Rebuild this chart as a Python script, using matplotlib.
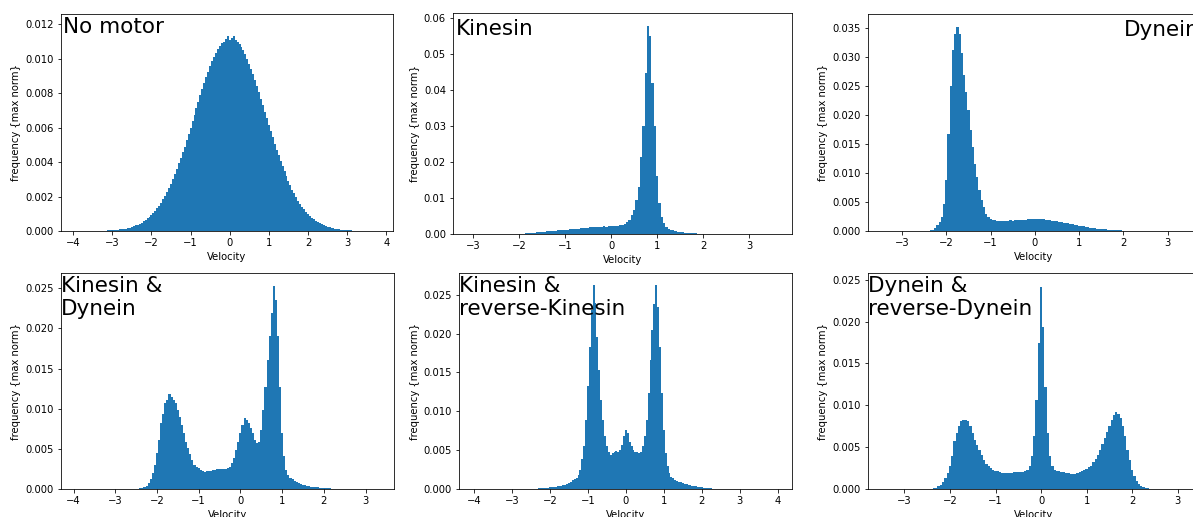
"""Velocity histograms for six motor configurations (max-normalised frequency)."""
import matplotlib
matplotlib.use("Agg")
import matplotlib.pyplot as plt
import numpy as np
from matplotlib.ticker import MultipleLocator

BLUE = "#1f77b4"
SCALE = 1e-4   # heights below are listed in units of 1e-4
STEP = 0.05    # bin width (velocity units)

LABELS = [
    "No motor",
    "Kinesin",
    "Dynein",
    "Kinesin &\nDynein",
    "Kinesin &\nreverse-Kinesin",
    "Dynein &\nreverse-Dynein",
]

# centre of the first bin for each panel
START = [-3.20, -2.20, -2.45, -2.50, -2.50, -2.45]

NO_MOTOR = [
    0.2, 0.2, 0.3, 0.3, 0.4, 0.5, 0.6, 0.7, 0.9, 1.0, 1.2, 1.4, 1.7, 2.0, 2.4,
    2.8, 3.2, 3.7, 4.3, 4.9, 5.6, 6.5, 7.4, 8.4, 9.5, 10.5, 11.8, 13.2, 14.8,
    16.5, 18.4, 20.5, 22.7, 25.0, 27.5, 30.2, 33.0, 36.0, 39.2, 42.3, 45.6,
    49.0, 52.6, 56.2, 60.0, 63.6, 67.5, 71.4, 75.0, 78.8, 82.4, 86.0, 89.4,
    92.5, 95.6, 98.5, 101.0, 103.5, 105.6, 107.5, 109.0, 110.0, 111.5, 113.5,
    111.0, 112.0, 113.0, 111.0, 110.0, 108.6, 107.0, 105.0, 102.6, 100.0, 97.2,
    94.2, 91.0, 87.6, 84.2, 80.5, 76.8, 73.0, 69.3, 65.5, 61.8, 58.0, 54.4,
    50.8, 47.3, 44.0, 40.8, 37.7, 34.7, 31.8, 29.1, 26.5, 24.0, 21.8, 19.6,
    17.7, 15.9, 14.2, 12.7, 11.3, 10.0, 8.9, 7.8, 6.9, 6.0, 5.2, 4.5, 3.9, 3.4,
    2.9, 2.5, 2.1, 1.8, 1.5, 1.3, 1.1, 0.9, 0.7, 0.6, 0.5, 0.4, 0.3, 0.3, 0.2,
    0.2,
]

KINESIN = [
    0.3, 0.4, 0.5, 0.6, 0.8, 1.0, 1.3, 1.6, 2.0, 2.4, 3.0, 3.6, 4.3, 5.0, 5.8,
    6.5, 7.2, 7.8, 8.4, 9.0, 9.6, 10.2, 10.8, 11.4, 12.0, 12.4, 13.0, 13.5,
    14.0, 14.5, 15.2, 15.8, 16.5, 17.0, 17.6, 18.2, 18.8, 19.5, 20.5, 20.2,
    20.6, 21.0, 20.8, 21.5, 21.8, 22.2, 23.0, 23.5, 24.5, 25.5, 28.0, 32.0,
    40.0, 52.0, 67.0, 95.0, 130.0, 215.0, 300.0, 447.0, 577.0, 550.0, 420.0,
    300.0, 160.0, 85.0, 48.0, 30.0, 20.0, 15.0, 12.0, 10.0, 8.0, 6.5, 5.0,
    4.2, 3.6, 3.0, 2.6, 2.2, 1.8, 1.5, 1.2, 1.0, 0.8, 0.6, 0.4, 0.3, 0.2,
]

DYNEIN = [
    0.2, 0.5, 1.0, 2.0, 5.0, 10.0, 16.0, 24.0, 47.0, 88.0, 168.0, 250.0, 313.0,
    341.0, 353.0, 341.0, 307.0, 269.0, 240.0, 209.0, 174.0, 145.0, 116.0, 93.0,
    70.0, 53.0, 42.0, 30.0, 24.0, 20.0, 19.0, 18.5, 18.0, 17.8, 18.0, 17.6,
    17.8, 18.0, 18.2, 18.0, 18.6, 18.8, 19.0, 19.4, 19.6, 19.8, 20.0, 20.4,
    20.6, 21.0, 20.6, 20.8, 20.4, 20.2, 19.8, 19.6, 18.8, 18.0, 17.4, 16.8,
    16.0, 15.2, 14.6, 13.8, 13.0, 12.2, 11.4, 10.6, 10.0, 9.4, 8.6, 8.0, 7.2,
    6.6, 6.0, 5.4, 4.8, 4.2, 3.8, 3.4, 3.0, 2.6, 2.3, 2.0, 1.7, 1.5, 1.3, 1.1,
    0.9, 0.8, 0.6, 0.5, 0.4, 0.3, 0.2, 0.2, 0.1, 0.1,
]

KIN_DYN = [
    0.2, 0.4, 0.8, 1.2, 2.0, 4.0, 7.0, 12.0, 20.0, 30.0, 45.0, 61.0, 82.0,
    94.0, 107.0, 111.0, 118.0, 115.0, 111.0, 107.0, 98.0, 90.0, 80.0, 70.0,
    59.0, 51.0, 43.0, 36.0, 30.0, 28.0, 26.0, 24.0, 22.0, 21.5, 22.0, 22.5,
    23.0, 23.5, 24.0, 24.5, 25.0, 24.5, 25.0, 25.5, 26.0, 28.0, 32.0, 39.0,
    49.0, 59.0, 70.0, 80.0, 88.0, 86.0, 82.0, 76.0, 70.0, 61.0, 57.0, 59.0,
    74.0, 98.0, 127.0, 161.0, 190.0, 219.0, 253.0, 235.0, 190.0, 127.0, 70.0,
    41.0, 24.0, 18.0, 14.0, 12.0, 10.0, 8.5, 7.0, 6.0, 5.0, 4.5, 4.0, 3.5,
    3.0, 2.6, 2.2, 2.0, 1.8, 1.6, 1.5, 1.2, 1.0, 0.8, 0.6, 0.5, 0.4, 0.3, 0.2,
]

KIN_REVKIN = [
    0.3, 0.4, 0.5, 0.6, 0.8, 1.0, 1.2, 1.4, 1.6, 1.8, 2.0, 2.3, 2.6, 3.0, 3.5,
    4.0, 4.5, 5.0, 5.5, 6.5, 8.0, 9.5, 11.0, 12.5, 14.0, 18.0, 25.0, 38.0,
    55.0, 89.0, 132.0, 183.0, 230.0, 262.0, 240.0, 196.0, 153.0, 115.0, 89.0,
    68.0, 55.0, 48.0, 44.0, 46.0, 48.0, 49.0, 48.0, 50.0, 57.0, 68.0, 76.0,
    72.0, 61.0, 55.0, 50.0, 48.0, 47.0, 46.0, 47.0, 55.0, 68.0, 89.0, 123.0,
    166.0, 204.0, 238.0, 262.0, 234.0, 183.0, 123.0, 76.0, 46.0, 29.0, 20.0,
    16.0, 14.0, 12.0, 10.5, 9.0, 8.5, 8.0, 7.0, 6.0, 5.5, 5.0, 4.5, 4.0, 3.5,
    3.0, 2.5, 2.0, 1.8, 1.5, 1.2, 1.0, 0.8, 0.6, 0.5, 0.4, 0.3, 0.2,
]

DYN_REVDYN = [
    0.3, 0.5, 0.8, 1.0, 3.0, 5.0, 8.0, 13.0, 19.0, 27.0, 39.0, 57.0, 67.0,
    75.0, 81.0, 83.0, 82.0, 81.0, 75.0, 67.0, 59.0, 53.0, 47.0, 41.0, 35.0,
    30.0, 27.0, 25.0, 23.0, 22.0, 21.0, 20.0, 19.5, 19.0, 19.5, 19.0, 19.5,
    20.0, 20.0, 20.0, 20.5, 20.0, 21.0, 23.0, 27.0, 39.0, 63.0, 106.0, 174.0,
    241.0, 194.0, 122.0, 67.0, 39.0, 27.0, 23.0, 22.0, 21.0, 20.5, 20.0, 19.5,
    19.0, 18.5, 18.0, 18.5, 19.0, 20.5, 22.0, 23.0, 24.0, 26.0, 28.0, 32.0,
    36.0, 41.0, 47.0, 54.0, 61.0, 68.0, 75.0, 83.0, 88.0, 92.0, 90.0, 85.0,
    75.0, 63.0, 47.0, 35.0, 23.0, 15.0, 9.0, 6.0, 4.0, 2.5, 1.0, 0.7, 0.5, 0.3,
]

SERIES = [NO_MOTOR, KINESIN, DYNEIN, KIN_DYN, KIN_REVKIN, DYN_REVDYN]

XLIM = [(-4.31, 4.17), (-3.44, 3.93), (-3.77, 3.73),
        (-4.30, 3.68), (-4.40, 4.38), (-3.80, 3.49)]
YTOP = [0.0126, 0.0614, 0.0375, 0.0269, 0.0278, 0.0258]
YSTEP = [0.002, 0.01, 0.005, 0.005, 0.005, 0.005]

# axes boxes in pixels: left, top, right, bottom (figure is 1193 x 517)
W, H = 1193, 517
BOXES = [(61, 14, 393, 231), (453, 13, 792, 234), (868, 14, 1200, 231),
         (61, 273, 394, 489), (459, 273, 792, 489), (868, 273, 1200, 489)]
# label offset from the top-left corner of each axes, in pixels
TEXT_OFF = [(2, 3), (3, 6), (256, 6), (0, 3), (0, 3), (0, 3)]


def main() -> None:
    fig = plt.figure(figsize=(W / 72, H / 72), dpi=72)
    for i, vals in enumerate(SERIES):
        l, t, r, b = BOXES[i]
        ax = fig.add_axes([l / W, 1 - b / H, (r - l) / W, (b - t) / H])
        h = np.asarray(vals) * SCALE
        edges = START[i] - STEP / 2 + STEP * np.arange(len(h) + 1)
        ax.stairs(h, edges, fill=True, color=BLUE, linewidth=0)
        ax.set_xlim(*XLIM[i])
        ax.set_ylim(0, YTOP[i])
        ax.xaxis.set_major_locator(MultipleLocator(1))
        ax.yaxis.set_major_locator(MultipleLocator(YSTEP[i]))
        ax.set_xlabel("Velocity", fontsize=10)
        ax.set_ylabel("frequency {max norm}", fontsize=10)
        dx, dy = TEXT_OFF[i]
        ax.annotate(LABELS[i], xy=(0, 1), xycoords="axes fraction",
                    xytext=(dx, -dy), textcoords="offset pixels",
                    ha="left", va="top", fontsize=21.5, linespacing=1.2)
    fig.savefig("out.png", dpi=72)
    plt.close(fig)


if __name__ == "__main__":
    main()
